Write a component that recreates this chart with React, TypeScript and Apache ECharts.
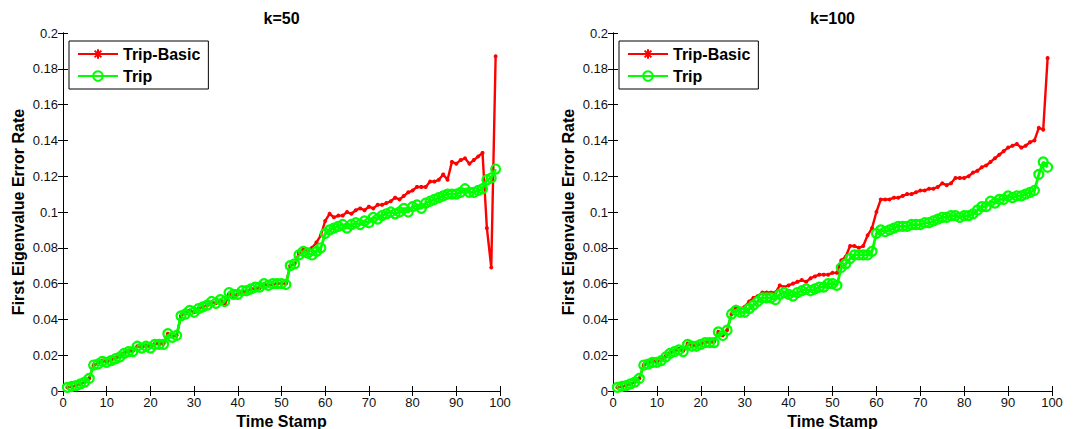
import React, { useEffect, useRef } from "react";
import * as echarts from "echarts";

const timeStamps: number[] = Array.from({ length: 99 }, (_, i) => i + 1);

const titles = ["k=50", "k=100"];
const seriesNames = ["Trip-Basic", "Trip"];
const xTicks = { min: 0, max: 100, interval: 10 };
const yTicks = { min: 0, max: 0.2, interval: 0.02 };

// k=50
const basic50: number[] = [
  0.002, 0.0025, 0.003, 0.004, 0.005, 0.007, 0.0145, 0.0155, 0.017, 0.0165,
  0.0175, 0.0185, 0.0195, 0.0215, 0.0225, 0.0225, 0.025, 0.0245, 0.0255, 0.025,
  0.0265, 0.0265, 0.0265, 0.032, 0.0305, 0.031, 0.042, 0.0435, 0.045, 0.044,
  0.046, 0.047, 0.048, 0.0495, 0.049, 0.0505, 0.048, 0.054, 0.053, 0.054,
  0.0555, 0.0555, 0.057, 0.057, 0.0575, 0.0595, 0.059, 0.0595, 0.06, 0.06,
  0.06, 0.07, 0.071, 0.077, 0.079, 0.079, 0.08, 0.083, 0.087, 0.095,
  0.099, 0.097, 0.098, 0.098, 0.1, 0.099, 0.101, 0.102, 0.101, 0.103,
  0.102, 0.104, 0.104, 0.105, 0.106, 0.108, 0.107, 0.109, 0.111, 0.112,
  0.114, 0.114, 0.114, 0.117, 0.117, 0.118, 0.121, 0.118, 0.128, 0.127,
  0.129, 0.13, 0.127, 0.129, 0.131, 0.133, 0.091, 0.069, 0.187,
];
const trip50: number[] = [
  0.002, 0.0025, 0.003, 0.004, 0.005, 0.007, 0.0145, 0.015, 0.0165, 0.016,
  0.017, 0.018, 0.019, 0.021, 0.022, 0.022, 0.025, 0.024, 0.025, 0.024,
  0.026, 0.026, 0.026, 0.032, 0.03, 0.031, 0.042, 0.043, 0.045, 0.044,
  0.046, 0.047, 0.048, 0.05, 0.049, 0.051, 0.05, 0.055, 0.054, 0.054,
  0.056, 0.056, 0.057, 0.058, 0.058, 0.06, 0.059, 0.06, 0.06, 0.06,
  0.0595, 0.07, 0.071, 0.076, 0.078, 0.077, 0.076, 0.078, 0.08, 0.088,
  0.09, 0.091, 0.092, 0.093, 0.091, 0.093, 0.094, 0.093, 0.095, 0.094,
  0.097, 0.096, 0.098, 0.099, 0.1, 0.099, 0.1, 0.102, 0.1, 0.103,
  0.104, 0.102, 0.105, 0.106, 0.107, 0.108, 0.109, 0.11, 0.11, 0.11,
  0.111, 0.113, 0.111, 0.111, 0.112, 0.113, 0.118, 0.119, 0.124,
];

// k=100
const basic100: number[] = [
  0.002, 0.0025, 0.003, 0.004, 0.005, 0.007, 0.0145, 0.016, 0.017, 0.0165,
  0.0175, 0.0195, 0.0215, 0.0225, 0.0235, 0.0225, 0.0265, 0.0255, 0.0255, 0.0265,
  0.0275, 0.0275, 0.0275, 0.033, 0.031, 0.034, 0.043, 0.047, 0.046, 0.047,
  0.05, 0.052, 0.053, 0.055, 0.055, 0.055, 0.055, 0.059, 0.058, 0.059,
  0.06, 0.061, 0.062, 0.061, 0.063, 0.064, 0.065, 0.065, 0.065, 0.066,
  0.066, 0.073, 0.075, 0.081, 0.081, 0.08, 0.081, 0.087, 0.091, 0.1,
  0.107, 0.107, 0.107, 0.108, 0.108, 0.109, 0.11, 0.11, 0.111, 0.112,
  0.112, 0.113, 0.113, 0.114, 0.116, 0.115, 0.116, 0.119, 0.119, 0.119,
  0.12, 0.122, 0.123, 0.125, 0.126, 0.128, 0.13, 0.132, 0.134, 0.136,
  0.137, 0.138, 0.136, 0.137, 0.139, 0.14, 0.147, 0.146, 0.186,
];
const trip100: number[] = [
  0.002, 0.0025, 0.003, 0.004, 0.005, 0.007, 0.0145, 0.015, 0.016, 0.016,
  0.017, 0.019, 0.021, 0.022, 0.023, 0.022, 0.026, 0.025, 0.025, 0.026,
  0.027, 0.027, 0.027, 0.033, 0.031, 0.034, 0.043, 0.045, 0.044, 0.044,
  0.046, 0.048, 0.05, 0.052, 0.052, 0.052, 0.051, 0.054, 0.055, 0.054,
  0.053, 0.055, 0.056, 0.057, 0.056, 0.057, 0.058, 0.058, 0.06, 0.06,
  0.059, 0.069, 0.071, 0.074, 0.076, 0.076, 0.076, 0.076, 0.078, 0.088,
  0.09, 0.089, 0.09, 0.091, 0.092, 0.092, 0.092, 0.093, 0.093, 0.093,
  0.094, 0.094, 0.095, 0.096, 0.097, 0.097, 0.098, 0.098, 0.097, 0.098,
  0.098, 0.099, 0.101, 0.103, 0.103, 0.106, 0.105, 0.107, 0.107, 0.109,
  0.108, 0.109, 0.109, 0.11, 0.111, 0.112, 0.121, 0.128, 0.125,
];

const FONT = "'Liberation Sans', Arial, Helvetica, sans-serif";
const STAR = "path://M0,-5L0,5M-5,0L5,0M-3.5,-3.5L3.5,3.5M-3.5,3.5L3.5,-3.5";

const grids = [
  { left: 63, top: 33, width: 437, height: 358 },
  { left: 613, top: 33, width: 439, height: 358 },
];

export default function App() {
  const ref = useRef<HTMLDivElement>(null);
  useEffect(() => {
    if (!ref.current) return;
    const chart = echarts.init(ref.current, undefined, { renderer: "svg" });
    const panels = [
      { basic: basic50, trip: trip50 },
      { basic: basic100, trip: trip100 },
    ];
    const axisLine = { show: true, lineStyle: { color: "#000", width: 1 } };
    const tick = { inside: true, length: 5, lineStyle: { color: "#000" } };
    const xAxis: any[] = [];
    const yAxis: any[] = [];
    const series: any[] = [];
    const legend: any[] = [];
    const title: any[] = [];
    grids.forEach((g, gi) => {
      xAxis.push({
        type: "value", gridIndex: gi, position: "bottom", ...xTicks,
        axisLine, axisTick: tick,
        axisLabel: { color: "#111", fontSize: 13, fontFamily: FONT, margin: 5 },
        splitLine: { show: false },
        name: "Time Stamp", nameLocation: "middle", nameGap: 21,
        nameTextStyle: { fontWeight: "bold", fontSize: 16, color: "#000", fontFamily: FONT },
      });
      xAxis.push({
        type: "value", gridIndex: gi, position: "top", ...xTicks,
        axisLine, axisTick: tick,
        axisLabel: { show: false }, splitLine: { show: false },
      });
      yAxis.push({
        type: "value", gridIndex: gi, position: "left", ...yTicks,
        axisLine, axisTick: tick,
        axisLabel: { color: "#111", fontSize: 13, fontFamily: FONT, margin: 5 },
        splitLine: { show: false },
        name: "First Eigenvalue Error Rate", nameLocation: "middle", nameGap: 37,
        nameTextStyle: { fontWeight: "bold", fontSize: 16, color: "#000", fontFamily: FONT },
      });
      yAxis.push({
        type: "value", gridIndex: gi, position: "right", ...yTicks,
        axisLine, axisTick: tick,
        axisLabel: { show: false }, splitLine: { show: false },
      });
      const p = panels[gi];
      series.push({
        type: "line", name: seriesNames[0], xAxisIndex: gi * 2, yAxisIndex: gi * 2,
        data: timeStamps.map((t, i) => [t, p.basic[i]]),
        symbol: STAR, symbolSize: 4, showSymbol: true,
        lineStyle: { color: "#ff0000", width: 2.4 },
        itemStyle: { color: "#ff0000", borderColor: "#ff0000", borderWidth: 1.2 },
      });
      series.push({
        type: "line", name: seriesNames[1], xAxisIndex: gi * 2, yAxisIndex: gi * 2,
        data: timeStamps.map((t, i) => [t, p.trip[i]]),
        symbol: "circle", symbolSize: 9, showSymbol: true,
        lineStyle: { color: "#00ff00", width: 2.8 },
        itemStyle: { color: "rgba(0,0,0,0)", borderColor: "#00ff00", borderWidth: 2.2 },
      });
      legend.push({
        orient: "vertical", left: g.left + 6, top: 41,
        data: seriesNames,
        itemWidth: 40, itemHeight: 12, itemGap: 6,
        padding: [5, 8, 5, 8],
        borderColor: "#000", borderWidth: 1, backgroundColor: "#fff",
        textStyle: { fontWeight: "bold", fontSize: 16, color: "#000", fontFamily: FONT },
        selectedMode: false,
      });
      title.push({
        text: titles[gi], left: g.left + g.width / 2, top: 10, textAlign: "center",
        textStyle: { fontWeight: "bold", fontSize: 16, color: "#000", fontFamily: FONT },
        padding: 0,
      });
    });
    chart.setOption({
      animation: false,
      backgroundColor: "#fff",
      title,
      legend,
      grid: grids.map((g) => ({ ...g, containLabel: false, outerBoundsMode: "none" })),
      xAxis,
      yAxis,
      series,
    });
    return () => chart.dispose();
  }, []);
  return (
    <div
      ref={ref}
      style={{ position: "fixed", left: 0, top: 0, width: 1078, height: 429, background: "#fff" }}
    />
  );
}
